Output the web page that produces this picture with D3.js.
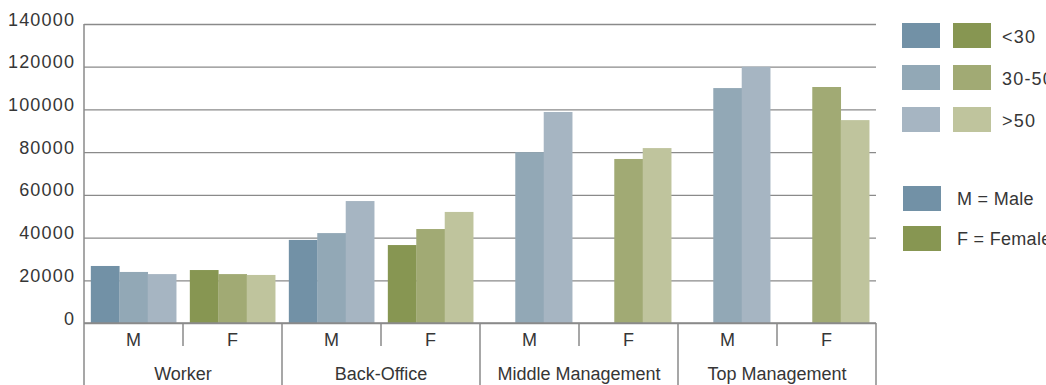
<!DOCTYPE html>
<html>
<head>
<meta charset="utf-8">
<script src="https://cdn.jsdelivr.net/npm/d3@7"></script>
<style>
  html, body { margin: 0; padding: 0; background: #fff; }
  svg { display: block; font-family: "Liberation Sans", Arial, sans-serif; }
</style>
</head>
<body>
<svg id="chart" width="1046" height="385"></svg>
<script>
// Average salary by job level, gender and age band
const groups = ["Worker", "Back-Office", "Middle Management", "Top Management"];
const genders = ["M", "F"];
const ageBands = ["<30", "30-50", ">50"];
const maleValues = [
  [26700, 23900, 22900],
  [38900, 42100, 57100],
  [null, 80000, 98800],
  [null, 110000, 120000]
];
const femaleValues = [
  [24800, 22900, 22500],
  [36500, 44000, 52000],
  [null, 76800, 81900],
  [null, 110500, 95000]
];
const yTicks = [0, 20000, 40000, 60000, 80000, 100000, 120000, 140000];
const genderLegend = ["M = Male", "F = Female"];

const palette = {
  M: ["#7291a6", "#92a8b6", "#a6b5c2"],
  F: ["#879652", "#a1aa74", "#bfc49d"]
};
const textColor = "#363636";
const lineColor = "#8a8a8a";

const svg = d3.select("#chart");
const plotLeft = 84, plotRight = 876, plotTop = 24, plotBase = 323;

const x0 = d3.scaleBand().domain(groups).range([plotLeft, plotRight]).padding(0);
const x1 = d3.scaleBand().domain(genders).range([0, x0.bandwidth()]).padding(0);
const x2 = d3.scaleBand().domain(ageBands).range([0, x1.bandwidth()])
  .paddingInner(0).paddingOuter(0.24);
const y = d3.scaleLinear().domain([0, 140000]).range([plotBase, plotTop]);

// Y axis with full-width gridlines
const yAxis = d3.axisLeft(y).tickValues(yTicks).tickSize(-(plotRight - plotLeft))
  .tickPadding(10).tickFormat(d3.format("d"));
const gy = svg.append("g").attr("transform", `translate(${plotLeft},0)`).call(yAxis);
gy.select(".domain").remove();
gy.attr("font-family", null).attr("font-size", null);
gy.selectAll(".tick line").attr("stroke", lineColor).attr("stroke-width", 1.3);
gy.selectAll(".tick text")
  .attr("fill", textColor)
  .attr("font-size", 18)
  .attr("letter-spacing", "1.2px")
  .attr("dy", null)
  .attr("y", 1)
  .attr("x", -8.8);

// Bars
const rows = [];
groups.forEach((g, gi) => {
  genders.forEach(s => {
    const vals = s === "M" ? maleValues[gi] : femaleValues[gi];
    ageBands.forEach((a, ai) => {
      if (vals[ai] != null) rows.push({ g, s, a, ai, v: vals[ai] });
    });
  });
});
svg.append("g").selectAll("rect").data(rows).join("rect")
  .attr("x", d => x0(d.g) + x1(d.s) + x2(d.a))
  .attr("width", x2.bandwidth() + 0.3)
  .attr("y", d => y(d.v))
  .attr("height", d => plotBase - y(d.v))
  .attr("fill", d => palette[d.s][d.ai]);

// Baseline redrawn above bars
svg.append("line")
  .attr("x1", plotLeft).attr("x2", plotRight).attr("y1", plotBase).attr("y2", plotBase)
  .attr("stroke", lineColor).attr("stroke-width", 1.3);

// Left axis line
svg.append("line")
  .attr("x1", plotLeft).attr("x2", plotLeft).attr("y1", plotTop).attr("y2", 385)
  .attr("stroke", lineColor).attr("stroke-width", 1.5);

// Category axis: dividers and labels
const subTicks = [];
groups.forEach(g => genders.forEach(s => subTicks.push({ g, s })));
const gx = svg.append("g");
gx.selectAll("line.sub").data(groups).join("line")
  .attr("class", "sub")
  .attr("x1", g => x0(g) + x1("F")).attr("x2", g => x0(g) + x1("F"))
  .attr("y1", plotBase).attr("y2", 346)
  .attr("stroke", lineColor).attr("stroke-width", 1.5);
gx.selectAll("line.grp").data(groups).join("line")
  .attr("class", "grp")
  .attr("x1", g => x0(g) + x0.bandwidth()).attr("x2", g => x0(g) + x0.bandwidth())
  .attr("y1", plotBase).attr("y2", 385)
  .attr("stroke", lineColor).attr("stroke-width", 1.5);
gx.selectAll("text.sub").data(subTicks).join("text")
  .attr("class", "sub")
  .attr("x", d => x0(d.g) + x1(d.s) + x1.bandwidth() / 2)
  .attr("y", 346)
  .attr("text-anchor", "middle")
  .attr("font-size", 18)
  .attr("fill", textColor)
  .text(d => d.s);
gx.selectAll("text.grp").data(groups).join("text")
  .attr("class", "grp")
  .attr("x", g => x0(g) + x0.bandwidth() / 2)
  .attr("y", 380)
  .attr("text-anchor", "middle")
  .attr("font-size", 18)
  .attr("fill", textColor)
  .text(g => g);

// Age band legend: one swatch per gender, then the label
const lg = svg.append("g");
ageBands.forEach((a, i) => {
  const yy = 23 + i * 42;
  lg.append("rect").attr("x", 902).attr("y", yy).attr("width", 38).attr("height", 25)
    .attr("fill", palette.M[i]);
  lg.append("rect").attr("x", 953).attr("y", yy).attr("width", 38).attr("height", 25)
    .attr("fill", palette.F[i]);
  lg.append("text").attr("x", 1002).attr("y", yy + 20)
    .attr("font-size", 18).attr("letter-spacing", "1.2px")
    .attr("fill", textColor).text(a);
});

// Gender legend
genders.forEach((s, i) => {
  const yy = 186 + i * 40;
  lg.append("rect").attr("x", 903).attr("y", yy).attr("width", 38).attr("height", 25)
    .attr("fill", palette[s][0]);
  lg.append("text").attr("x", 957).attr("y", yy + 19)
    .attr("font-size", 18).attr("letter-spacing", "0.3px")
    .attr("fill", textColor).text(genderLegend[i]);
});
</script>
</body>
</html>
